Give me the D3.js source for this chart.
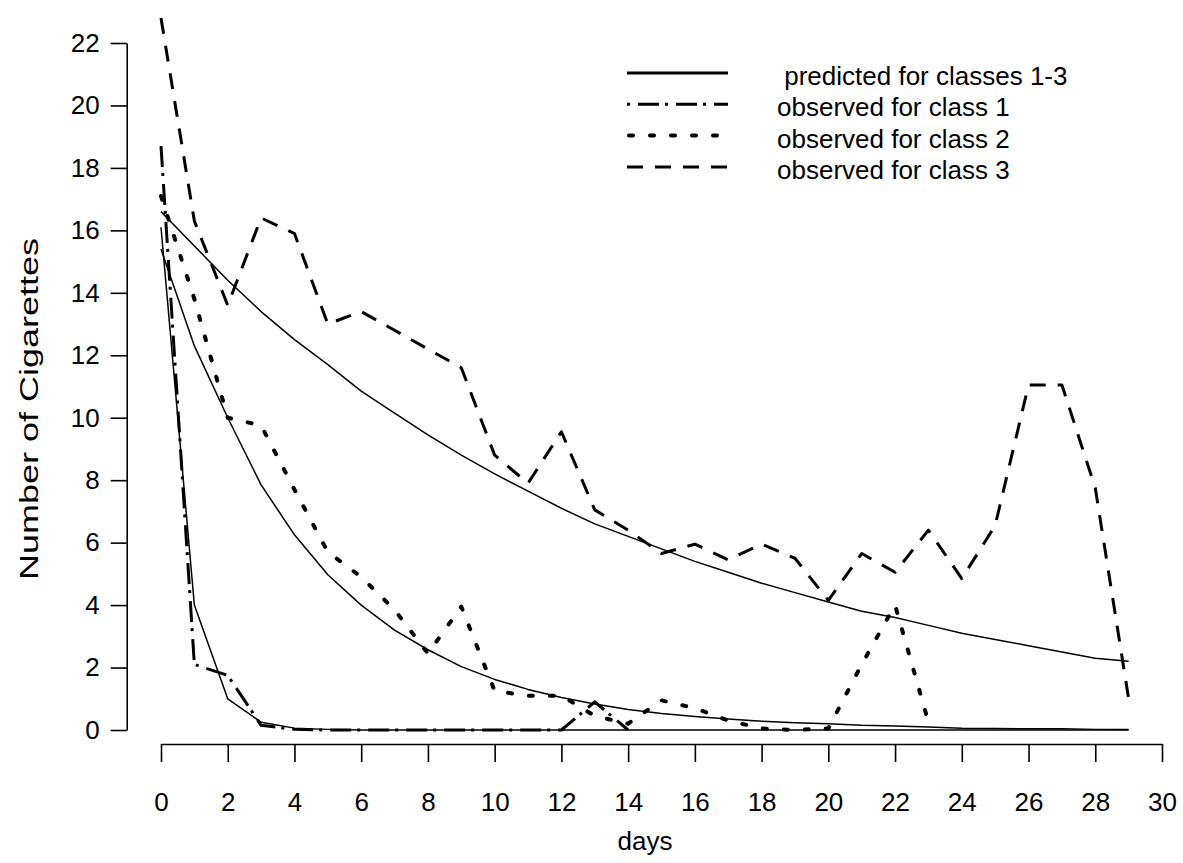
<!DOCTYPE html>
<html>
<head>
<meta charset="utf-8">
<script src="https://cdn.jsdelivr.net/npm/d3@7"></script>
<style>
  body { margin: 0; background: #fff; }
  text { font-family: "Liberation Sans", Arial, sans-serif; }
</style>
</head>
<body>
<svg id="chart" width="1183" height="863"></svg>
<script>
// days on the x axis
const days = [0, 1, 2, 3, 4, 5, 6, 7, 8, 9, 10, 11, 12, 13, 14, 15, 16, 17, 18, 19, 20, 21, 22, 23, 24, 25, 26, 27, 28, 29];

// predicted curves (one per class)
const predicted1 = [16.1, 4.0, 1.0, 0.25, 0.06, 0.02, 0, 0, 0, 0, 0, 0, 0, 0, 0, 0, 0, 0, 0, 0, 0, 0, 0, 0, 0, 0, 0, 0, 0, 0];
const predicted2 = [15.4, 12.3, 10.0, 7.85, 6.25, 4.97, 4.0, 3.2, 2.57, 2.03, 1.62, 1.3, 1.04, 0.83, 0.66, 0.53, 0.43, 0.35, 0.28, 0.23, 0.2, 0.15, 0.13, 0.1, 0.06, 0.05, 0.04, 0.04, 0.02, 0.02];
const predicted3 = [16.6, 15.5, 14.4, 13.4, 12.5, 11.7, 10.85, 10.15, 9.45, 8.8, 8.2, 7.65, 7.1, 6.6, 6.2, 5.8, 5.4, 5.05, 4.7, 4.4, 4.1, 3.8, 3.6, 3.35, 3.1, 2.9, 2.7, 2.5, 2.3, 2.2];

// observed means (class 1 and 2 stop early)
const observed1 = [18.7, 2.1, 1.75, 0.15, 0.02, 0, 0, 0, 0, 0, 0, 0, 0, 0.9, 0];
const observed2 = [17.1, 13.8, 10.0, 9.75, 7.7, 5.7, 4.9, 3.85, 2.45, 3.95, 1.25, 1.1, 1.1, 0.45, 0.2, 0.95, 0.7, 0.3, 0.05, 0, 0.05, 2.1, 4.0, 0.25];
const observed3 = [22.8, 16.3, 13.6, 16.4, 15.9, 13.0, 13.4, 12.8, 12.2, 11.6, 8.8, 7.9, 9.55, 7.05, 6.4, 5.65, 5.95, 5.45, 5.95, 5.5, 4.15, 5.65, 5.05, 6.4, 4.85, 6.55, 11.05, 11.05, 7.75, 1.0];

const xTicks = [0, 2, 4, 6, 8, 10, 12, 14, 16, 18, 20, 22, 24, 26, 28, 30];
const yTicks = [0, 2, 4, 6, 8, 10, 12, 14, 16, 18, 20, 22];

const legendLabels = [" predicted for classes 1-3", "observed for class 1", "observed for class 2", "observed for class 3"];

const svg = d3.select("#chart");
const fontSize = 26;

const x = d3.scaleLinear().domain([0, 30]).range([161, 1162]);
const y = d3.scaleLinear().domain([0, 22]).range([730, 43]);

const styles = {
  predicted: {width: 1.5, dash: null, cap: "butt"},
  dashdot: {width: 3, dash: "21,6,3,8", cap: "butt"},
  dotted: {width: 4, dash: "4,17", cap: "round"},
  dashed: {width: 3, dash: "16,12", cap: "butt"}
};

// axes
const yAxis = svg.append("g")
  .attr("transform", "translate(126.7,0)")
  .call(d3.axisLeft(y).tickValues(yTicks).tickSize(16).tickSizeOuter(0).tickPadding(11));
const xAxis = svg.append("g")
  .attr("transform", "translate(0,744)")
  .call(d3.axisBottom(x).tickValues(xTicks).tickSize(18).tickSizeOuter(0).tickPadding(31));

[yAxis, xAxis].forEach(a => {
  a.selectAll("path, line").attr("stroke", "#000").attr("stroke-width", 1.6);
  a.selectAll("text").attr("font-size", fontSize).attr("fill", "#000")
    .attr("font-family", "'Liberation Sans', Arial, sans-serif");
});

svg.append("text")
  .attr("x", 645).attr("y", 850)
  .attr("text-anchor", "middle")
  .attr("font-size", fontSize)
  .text("days");

// the y title is drawn stretched along its length in the original
svg.append("text")
  .attr("transform", "translate(38,409) rotate(-90)")
  .attr("text-anchor", "middle")
  .attr("font-size", fontSize)
  .attr("textLength", 342)
  .attr("lengthAdjust", "spacingAndGlyphs")
  .text("Number of Cigarettes");

// lines
const line = d3.line().x((d, i) => x(days[i])).y(d => y(d));

function drawSeries(values, st) {
  svg.append("path")
    .datum(values)
    .attr("fill", "none")
    .attr("stroke", "#000")
    .attr("stroke-width", st.width)
    .attr("stroke-dasharray", st.dash)
    .attr("stroke-linecap", st.cap)
    .attr("stroke-linejoin", "round")
    .attr("d", line);
}

drawSeries(predicted1, styles.predicted);
drawSeries(predicted2, styles.predicted);
drawSeries(predicted3, styles.predicted);
drawSeries(observed1, styles.dashdot);
drawSeries(observed2, styles.dotted);
drawSeries(observed3, styles.dashed);

// legend
const legendStyles = [
  {width: 2.8, dash: null, cap: "butt"},
  {width: 3, dash: "3,8,21,6", cap: "butt"},
  {width: 4, dash: "4,17", cap: "round"},
  {width: 3, dash: "16,12", cap: "butt"}
];

const legend = svg.append("g");
legendLabels.forEach((lab, i) => {
  const ly = 73 + i * 31.3;
  const st = legendStyles[i];
  legend.append("line")
    .attr("x1", i === 2 ? 629 : 627).attr("x2", 728)
    .attr("y1", ly).attr("y2", ly)
    .attr("stroke", "#000")
    .attr("stroke-width", st.width)
    .attr("stroke-dasharray", st.dash)
    .attr("stroke-linecap", st.cap);
  legend.append("text")
    .attr("x", 777).attr("y", ly + 12)
    .attr("font-size", fontSize)
    .style("white-space", "pre")
    .text(lab);
});
</script>
</body>
</html>
